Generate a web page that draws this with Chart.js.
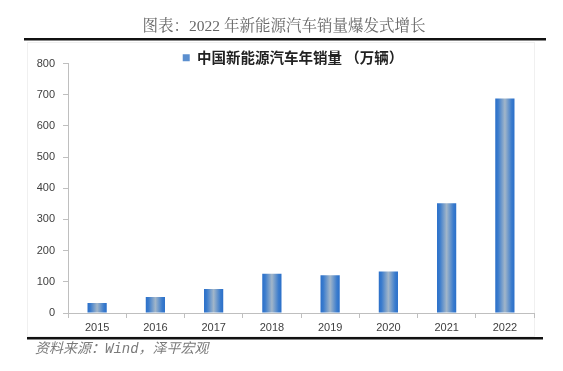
<!DOCTYPE html>
<html><head><meta charset="utf-8">
<script src="https://cdn.jsdelivr.net/npm/chart.js@4"></script>
<style>html,body{margin:0;padding:0;background:#fff;}canvas{display:block;}</style>
</head><body>
<canvas id="c" width="563" height="371"></canvas>
<script>
const categories = ['2015','2016','2017','2018','2019','2020','2021','2022'];
const salesValues = [32, 51, 77, 126, 121, 133, 352, 688];
const seriesName = '中国新能源汽车年销量 （万辆）';
const chartTitle = '图表：2022 年新能源汽车销量爆发式增长';
const sourceNote = '资料来源：Wind，泽平宏观';

const BAR_PCT = 0.33;
function barFill(ctx){
  const chart = ctx.chart;
  const xs = chart.scales && chart.scales.x;
  if(!xs || ctx.type !== 'data') return '#4f86c6';
  const cx = xs.getPixelForValue(ctx.dataIndex);
  const w = (xs.width / categories.length) * BAR_PCT;
  if(!isFinite(cx) || !isFinite(w) || w <= 0) return '#4f86c6';
  const g = chart.ctx.createLinearGradient(cx - w/2, 0, cx + w/2, 0);
  g.addColorStop(0, '#2a6fc9');
  g.addColorStop(0.15, '#3b7ccd');
  g.addColorStop(0.5, '#a2b6c9');
  g.addColorStop(0.85, '#3b7ccd');
  g.addColorStop(1, '#2a6fc9');
  return g;
}

const deco = {
  id: 'deco',
  afterLayout(chart){
    const lg = chart.legend;
    if(!lg) return;
    lg.left += 12; lg.right += 12;
    lg.top += 11.5; lg.bottom += 11.5;
  },
  beforeDraw(chart){
    const c = chart.ctx;
    c.save();
    c.fillStyle = '#fff';
    c.fillRect(0,0,chart.width,chart.height);
    c.strokeStyle = '#f0f0f0';
    c.lineWidth = 1;
    c.strokeRect(27.5, 42.5, 507, 294);
    c.restore();
  },
  afterDraw(chart){
    const c = chart.ctx;
    c.save();
    c.fillStyle = '#666';
    c.font = '15.5px "Liberation Serif", "Noto Serif CJK SC", "Noto Sans CJK SC", serif';
    c.textAlign = 'center';
    c.textBaseline = 'middle';
    c.fillText(chartTitle, 284, 27);
    c.fillStyle = '#111';
    c.fillRect(24, 38, 522, 2.5);
    c.fillRect(27, 337, 516, 2.5);
    c.fillStyle = '#7a7a7a';
    c.font = 'italic 14px "Liberation Mono", "Noto Sans CJK SC", monospace';
    c.textAlign = 'left';
    c.fillText(sourceNote, 35, 349);
    c.restore();
  }
};

new Chart(document.getElementById('c'), {
  type: 'bar',
  data: {
    labels: categories,
    datasets: [{
      label: seriesName,
      data: salesValues,
      backgroundColor: barFill,
      borderWidth: 0,
      barPercentage: BAR_PCT,
      categoryPercentage: 1.0
    }]
  },
  options: {
    responsive: false,
    animation: false,
    devicePixelRatio: 1,
    layout: { padding: { left: 28, right: 29, top: 39, bottom: 33 } },
    plugins: {
      legend: {
        display: true,
        position: 'top',
        labels: {
          boxWidth: 7, boxHeight: 7,
          color: '#222',
          font: { family: '"Noto Sans CJK SC", sans-serif', size: 14.5, weight: 'bold' },
          padding: 0,
          generateLabels(chart){
            return [{ text: seriesName, fillStyle: '#5b8fcf', strokeStyle: '#5b8fcf', lineWidth: 0, datasetIndex: 0, hidden: false, fontColor: '#222' }];
          }
        }
      },
      tooltip: { enabled: false }
    },
    scales: {
      x: {
        grid: { display: true, drawOnChartArea: false, offset: true, tickLength: 5, color: '#bfbfbf' },
        border: { color: '#bfbfbf' },
        ticks: { color: '#404040', font: { family: '"Liberation Sans", "Open Sans", sans-serif', size: 11 }, padding: 3 },
        afterFit(s){ s.height = 25; }
      },
      y: {
        min: 0, max: 800,
        ticks: { stepSize: 100, color: '#404040', font: { family: '"Liberation Sans", "Open Sans", sans-serif', size: 11 }, padding: 8 },
        grid: { display: true, drawOnChartArea: false, tickLength: 5, color: '#bfbfbf' },
        border: { color: '#bfbfbf' },
        afterFit(s){ s.width = 40; }
      }
    }
  },
  plugins: [deco]
});
</script>
</body></html>
